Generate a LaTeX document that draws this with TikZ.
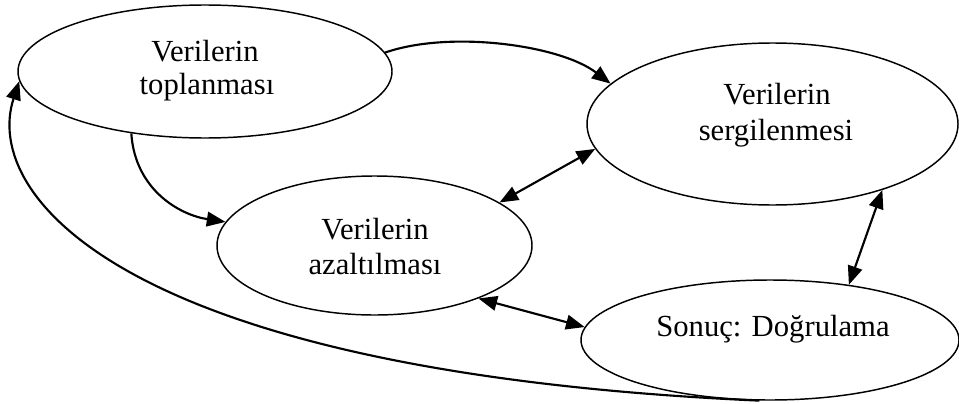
\documentclass[tikz,border=0pt]{standalone}
\usepackage{fontspec}
\setmainfont{Liberation Serif}
\usetikzlibrary{shapes.geometric,arrows.meta}
\tikzset{
  oval/.style={draw, ellipse, line width=1.1pt, inner sep=0pt},
  lbl/.style={anchor=base, inner sep=0pt, font=\fontsize{23pt}{24pt}\selectfont},
  conn/.style={line width=1.6pt, -{Triangle[length=14pt,width=11pt]}},
  biconn/.style={line width=1.6pt, {Triangle[length=14pt,width=11pt]}-{Triangle[length=14pt,width=11pt]}}
}
\begin{document}
\begin{tikzpicture}[x=0.75pt,y=-0.75pt]
\useasboundingbox (0,0) rectangle (959,403);
% ellipses
\node[oval, minimum width=280.5pt, minimum height=99.75pt] (e1) at (205,71.5) {};
\node[oval, minimum width=278.25pt, minimum height=121.5pt] (e2) at (772.5,124) {};
\node[oval, minimum width=236.25pt, minimum height=104.25pt] (e3) at (374.5,245.5) {};
\node[oval, minimum width=283.5pt, minimum height=90pt] (e4) at (770,340) {};
% texts
\node[lbl] (t1a) at (205,62) {Verilerin};
\node[lbl] (t1b) at (207,94) {toplanması};
\node[lbl] (t2a) at (777,104) {Verilerin};
\node[lbl] (t2b) at (776,140) {sergilenmesi};
\node[lbl] (t3a) at (375,239) {Verilerin};
\node[lbl] (t3b) at (375,274) {azaltılması};
\node[lbl] (t4) at (773,336) {Sonuç: Doğrulama};
% connectors
\draw[conn] (e1.6) .. controls (450,30) and (560,45) .. (e2.166);
\draw[conn] (e1.220) .. controls (135,190) and (180,215) .. (e3.171);
\draw[biconn] (e3.19) -- (e2.188);
\draw[biconn] (e3.-27) -- (e4.176);
\draw[biconn] (e2.-31.5) -- (e4.35);
\draw[conn] (e4.-100) .. controls (120,372) and (-18,195) .. (e1.183);
\end{tikzpicture}
\end{document}
